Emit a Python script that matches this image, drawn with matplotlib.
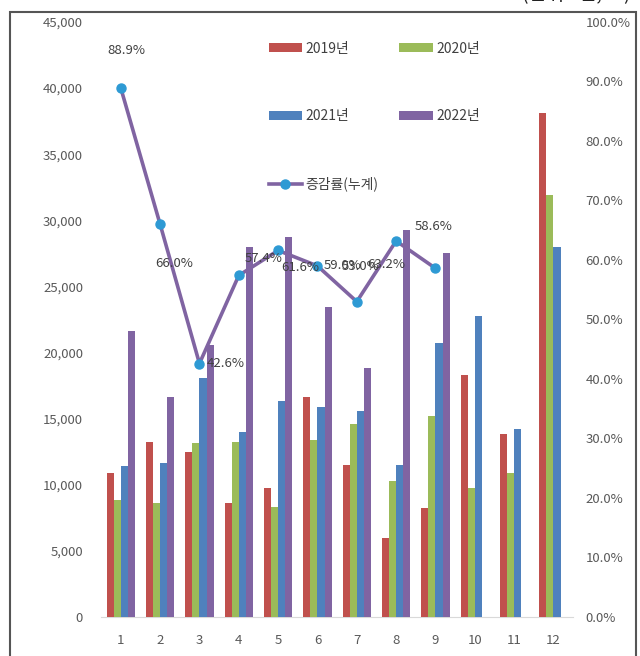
import matplotlib
matplotlib.use("Agg")
import matplotlib.pyplot as plt
from matplotlib.patches import Rectangle
from matplotlib.ticker import FuncFormatter
import numpy as np

plt.rcParams['font.family'] = ['Noto Sans CJK KR', 'DejaVu Sans']

months = ['1', '2', '3', '4', '5', '6', '7', '8', '9', '10', '11', '12']
y2019 = [10900, 13250, 12500, 8650, 9750, 16650, 11500, 6000, 8250, 18300, 13850, 38100]
y2020 = [8850, 8650, 13150, 13250, 8350, 13400, 14600, 10300, 15200, 9750, 10900, 31900]
y2021 = [11400, 11650, 18100, 14000, 16350, 15900, 15550, 11500, 20750, 22800, 14250, 27950]
y2022 = [21600, 16650, 20600, 28000, 28700, 23450, 18850, 29300, 27550, np.nan, np.nan, np.nan]
rate = [88.9, 66.0, 42.6, 57.4, 61.6, 59.0, 53.0, 63.2, 58.6]
series_names = ['2019년', '2020년', '2021년', '2022년']
line_name = '증감률(누계)'

colors = ['#C0504D', '#9BBB59', '#4F81BD', '#8064A2']
tick_color = '#595959'

fig = plt.figure(figsize=(6.4, 6.56), dpi=100)
ax = fig.add_axes([0.158, 0.0595, 0.7375, 0.907])
ax2 = ax.twinx()

x = np.arange(len(months))
w = 0.18
bars = []
for i, vals in enumerate([y2019, y2020, y2021, y2022]):
    b = ax.bar(x + (i - 1.5) * w, vals, width=w, color=colors[i], label=series_names[i], zorder=3)
    bars.append(b)

# cumulative rate line on the right axis, kept behind the bars
xr = x[:len(rate)]
ln, = ax2.plot(xr, rate, color='#8064A2', lw=2.6, marker='o', ms=6.5,
               mfc='#2E9AD4', mec='#2E9AD4', label=line_name)
ax.set_zorder(ax2.get_zorder() + 1)
ax.patch.set_visible(False)

# data labels (offsets in points)
offsets = [(4, 27), (10, -28), (19, 0), (18, 12), (16, -12), (18, 0), (3, 25), (-7, -17), (-1, 30)]
for xi, r, off in zip(xr, rate, offsets):
    ax.annotate(f'{r:.1f}%', xy=(xi, r), xycoords=ax2.transData, xytext=off,
                textcoords='offset points', ha='center', va='center',
                fontsize=9.5, color='#404040', zorder=5)

ax.set_xlim(-0.5, len(months) - 0.5)
ax.set_ylim(0, 45000)
ax.set_yticks(np.arange(0, 45001, 5000))
ax.yaxis.set_major_formatter(FuncFormatter(lambda v, p: f'{int(v):,}'))
ax2.set_ylim(0, 100)
ax2.set_yticks(np.arange(0, 101, 10))
ax2.yaxis.set_major_formatter(FuncFormatter(lambda v, p: f'{v:.1f}%'))
ax.set_xticks(x)
ax.set_xticklabels(months)

for a in (ax, ax2):
    for s in a.spines.values():
        s.set_visible(False)
    a.tick_params(length=0, labelsize=9.5, labelcolor=tick_color)
ax.spines['bottom'].set_visible(True)
ax.spines['bottom'].set_color('#D9D9D9')
ax.tick_params(axis='y', pad=13)
ax.tick_params(axis='x', pad=12)
ax2.tick_params(axis='y', pad=9)

handles = [bars[0], bars[2], ln, bars[1], bars[3]]
labels = [series_names[0], series_names[2], line_name, series_names[1], series_names[3]]
fig.legend(handles, labels, ncol=2, loc='upper left', bbox_to_anchor=(0.409, 0.947),
           frameon=False, fontsize=10, handlelength=2.4, handleheight=0.6,
           labelspacing=3.85, columnspacing=1.5, handletextpad=0.25, borderpad=0,
           labelcolor='#404040')

# outer chart border and the unit note above it
fig.patches.append(Rectangle((10 / 640, -0.01), 626 / 640, 1.01 - 12 / 656, transform=fig.transFigure,
                             fill=False, edgecolor='#555555', lw=1.5))
fig.text(0.985, 1.008, '(단위 : 건, %)', ha='right', va='center', fontsize=14, color='#222222')

fig.savefig('out.png', dpi=100)
